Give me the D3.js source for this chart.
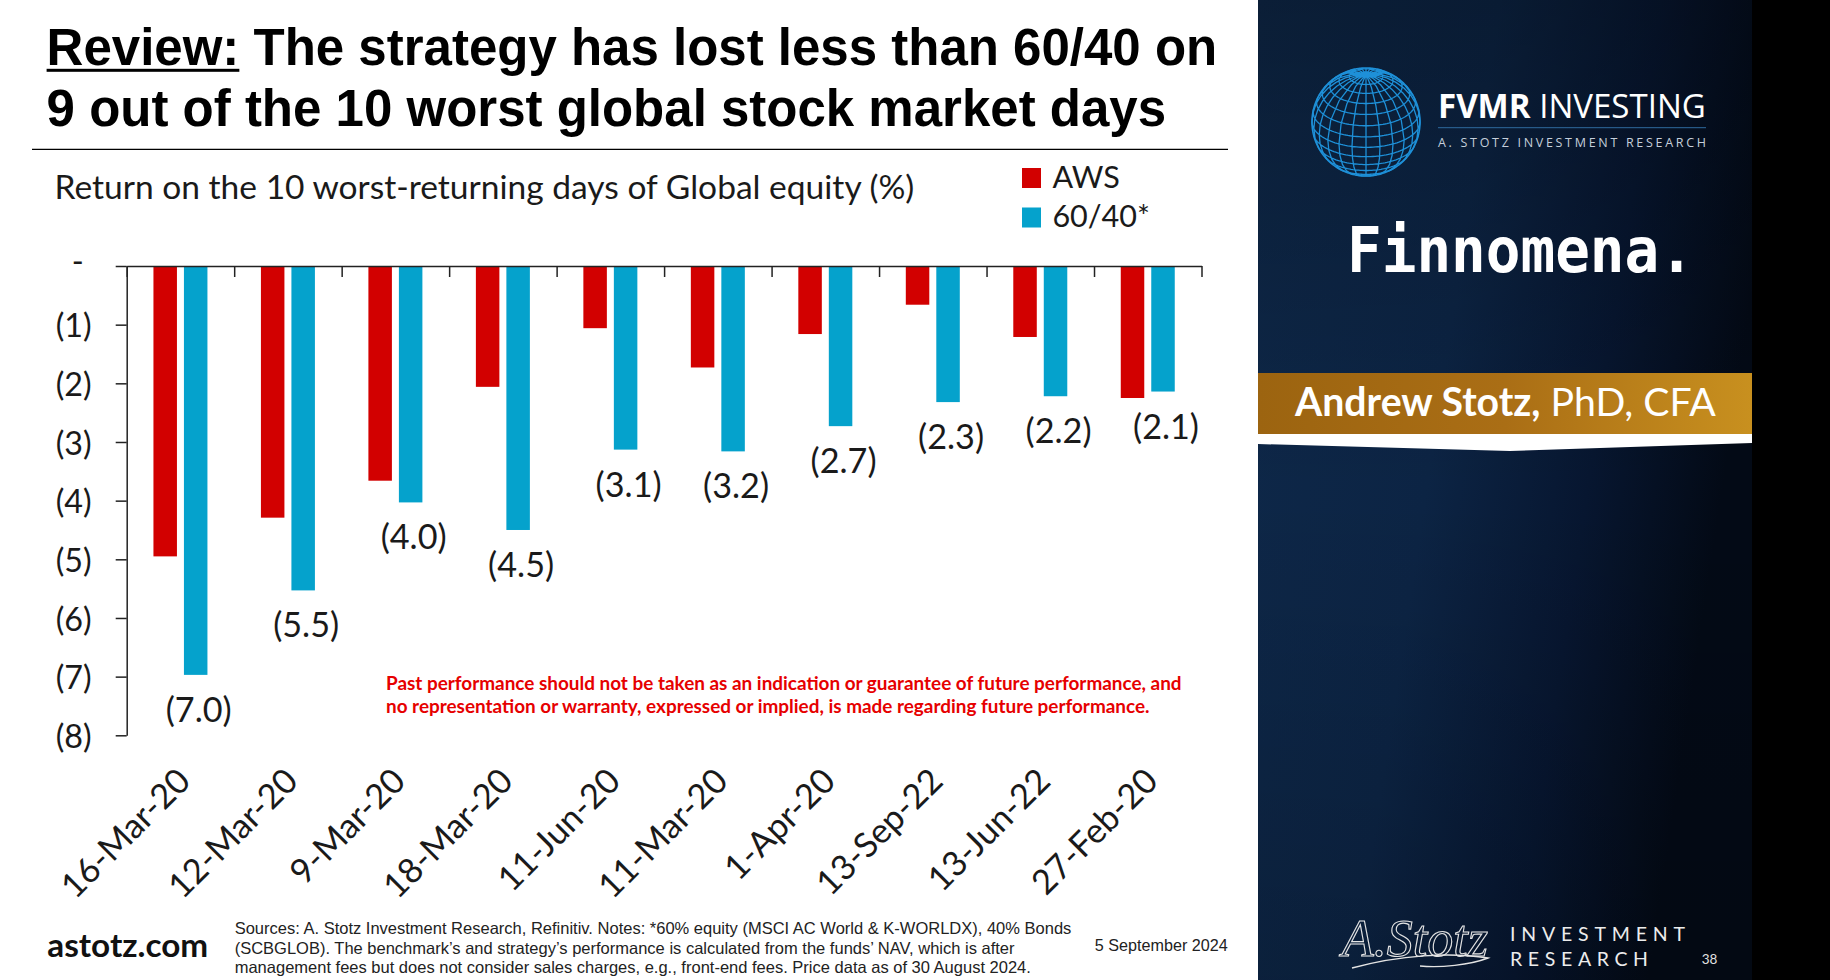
<!DOCTYPE html>
<html><head><meta charset="utf-8">
<script src="https://cdn.jsdelivr.net/npm/d3@7"></script>
<style>html,body{margin:0;padding:0;background:#fff;overflow:hidden}</style>
</head><body>
<svg id="c" width="1830" height="980"></svg>
<script>
// ---------------- data ----------------
const categories = ["16-Mar-20","12-Mar-20","9-Mar-20","18-Mar-20","11-Jun-20","11-Mar-20","1-Apr-20","13-Sep-22","13-Jun-22","27-Feb-20"];
const awsValues = [-4.95,-4.29,-3.66,-2.06,-1.06,-1.73,-1.16,-0.66,-1.21,-2.25];
const sixtyFortyValues = [-6.97,-5.53,-4.03,-4.50,-3.13,-3.16,-2.73,-2.32,-2.22,-2.14];
const seriesNames = ["AWS","60/40*"];
const seriesColors = ["#d20000","#05a2cc"];
const yTickValues = [0,-1,-2,-3,-4,-5,-6,-7,-8];
const titleLines = ["The strategy has lost less than 60/40 on","9 out of the 10 worst global stock market days"];
const subtitle = "Return on the 10 worst-returning days of Global equity (%)";
const disclaimer = ["Past performance should not be taken as an indication or guarantee of future performance, and",
  "no representation or warranty, expressed or implied, is made regarding future performance."];
const sources = ["Sources: A. Stotz Investment Research, Refinitiv. Notes: *60% equity (MSCI AC World & K-WORLDX), 40% Bonds",
  "(SCBGLOB). The benchmark\u2019s and strategy\u2019s performance is calculated from the funds\u2019 NAV, which is after",
  "management fees but does not consider sales charges, e.g., front-end fees. Price data as of 30 August 2024."];

const svg = d3.select("#c");
function fitW(sel, w){ const n=sel.node(); const fs=parseFloat(sel.attr("font-size")); const cw=n.getComputedTextLength(); sel.attr("font-size", fs*w/cw); return fs*w/cw; }
function measure(txt, family, weight, size){ const t=svg.append("text").attr("font-family",family).attr("font-weight",weight).attr("font-size",size).text(txt); const w=t.node().getComputedTextLength(); t.remove(); return w; }

// ---------------- backgrounds ----------------
svg.append("rect").attr("x",0).attr("y",0).attr("width",1830).attr("height",980).attr("fill","#fff");
const defs = svg.append("defs");
const pg = defs.append("linearGradient").attr("id","panel").attr("x1","0").attr("y1","0").attr("x2","1").attr("y2","0.3");
pg.append("stop").attr("offset","0").attr("stop-color","#0e2849");
pg.append("stop").attr("offset","0.45").attr("stop-color","#0c2444");
pg.append("stop").attr("offset","0.75").attr("stop-color","#071630");
pg.append("stop").attr("offset","1").attr("stop-color","#030a16");
svg.append("rect").attr("x",1258).attr("y",0).attr("width",494).attr("height",980).attr("fill","url(#panel)");
const vg = defs.append("linearGradient").attr("id","vshade").attr("x1","0").attr("y1","0").attr("x2","0").attr("y2","1");
vg.append("stop").attr("offset","0").attr("stop-color","#000").attr("stop-opacity",0.25);
vg.append("stop").attr("offset","0.5").attr("stop-color","#000").attr("stop-opacity",0);
vg.append("stop").attr("offset","1").attr("stop-color","#000").attr("stop-opacity",0.15);
svg.append("rect").attr("x",1258).attr("y",0).attr("width",494).attr("height",980).attr("fill","url(#vshade)");
svg.append("rect").attr("x",1752).attr("y",0).attr("width",78).attr("height",980).attr("fill","#000");

// ---------------- title ----------------
const title = svg.append("text").attr("x",46.6).attr("y",64.5).attr("font-family","Liberation Sans, Arial").attr("font-weight","bold").attr("font-size",50).attr("fill","#000");
title.append("tspan").text("Review:");
title.append("tspan").text(" " + titleLines[0]);
const tfs = fitW(title, 1171);
const revW = title.node().getSubStringLength(0,7);
svg.append("rect").attr("x",46.6).attr("y",68.8).attr("width",revW).attr("height",3).attr("fill","#000");
svg.append("text").attr("x",46.6).attr("y",125.5).attr("font-family","Liberation Sans, Arial").attr("font-weight","bold").attr("font-size",tfs).attr("fill","#000").text(titleLines[1]);
svg.append("line").attr("x1",32).attr("x2",1228).attr("y1",149.3).attr("y2",149.3).attr("stroke","#000").attr("stroke-width",1.3);

// subtitle
const st = svg.append("text").attr("x",54.5).attr("y",198.5).attr("font-family","Lato").attr("font-size",26).attr("fill","#1a1a1a").text(subtitle);
fitW(st, 860);

// ---------------- scales ----------------
const x0 = d3.scaleBand().domain(categories).range([126.7,1201.5]).paddingInner(0).paddingOuter(0);
const x1 = d3.scaleBand().domain(seriesNames).range([0,x0.bandwidth()]).paddingInner(0.2295).paddingOuter(0.877);
const y = d3.scaleLinear().domain([0,-8]).range([266,735.3]);

const chart = svg.append("g");
const rows = categories.map((c,i)=>({cat:c, vals:[awsValues[i], sixtyFortyValues[i]]}));

// bars
const groups = chart.selectAll("g.grp").data(rows).join("g").attr("class","grp").attr("transform",d=>`translate(${x0(d.cat)},0)`);
groups.selectAll("rect").data(d=>d.vals.map((v,j)=>({s:seriesNames[j], v, j}))).join("rect")
  .attr("x",d=>x1(d.s)).attr("width",x1.bandwidth())
  .attr("y",y(0)).attr("height",d=>y(d.v)-y(0)).attr("fill",d=>seriesColors[d.j]);

// data labels for 60/40
const lblSize = (function(){ const w=measure("(7.0)","Lato","normal",30); return 30*66/w; })();
groups.append("text").attr("font-family","Lato").attr("font-size",lblSize).attr("fill","#1a1a1a")
  .attr("text-anchor","middle")
  .attr("x",d=>x1(seriesNames[1])+x1.bandwidth()/2+3)
  .attr("y",d=>y(d.vals[1])+35).attr("dy","0.35em")
  .text(d=>"(" + d3.format(".1f")(-d.vals[1]) + ")");

// y axis
const yLblSize = (function(){ const w=measure("(1)","Lato","normal",30); return 30*36/w; })();
const yAxis = d3.axisLeft(y).tickValues(yTickValues).tickSize(11).tickSizeOuter(0).tickPadding(24)
  .tickFormat(d=> d===0 ? "-" : "(" + (-d) + ")");
const yg = svg.append("g").attr("transform","translate(126.7,0)").call(yAxis);
yg.select(".domain").attr("stroke","#222").attr("stroke-width",1.5);
yg.selectAll(".tick line").attr("stroke","#222").attr("stroke-width",1.5);
yg.selectAll(".tick text").attr("font-family","Lato").attr("font-size",yLblSize).attr("fill","#1a1a1a").attr("dy","0.38em");
yg.selectAll(".tick text").filter(d=>d===0).attr("dx",-8).attr("dy","0.2em");

// x axis (top line with boundary ticks)
const xb = d3.scaleLinear().domain([0,categories.length]).range(x0.range());
const xAxis = d3.axisBottom(xb).tickValues(d3.range(0,categories.length+1)).tickSize(11).tickSizeOuter(0).tickFormat("");
const xg = svg.append("g").attr("transform",`translate(0,${y(0)})`).call(xAxis);
xg.select(".domain").attr("stroke","#222").attr("stroke-width",1.5);
xg.selectAll(".tick line").attr("stroke","#222").attr("stroke-width",1.5);

// category labels
const catSize = (function(){ const w=measure(categories[0],"Lato","normal",30); return 30*166/w; })();
svg.append("g").selectAll("text").data(categories).join("text")
  .attr("font-family","Lato").attr("font-size",catSize).attr("fill","#1a1a1a").attr("text-anchor","end")
  .attr("transform",d=>`translate(${x0(d)+x0.bandwidth()/2+12},783) rotate(-45)`)
  .text(d=>d);

// legend
const leg = svg.append("g");
seriesNames.forEach((s,i)=>{
  leg.append("rect").attr("x",1022).attr("y",168+i*39.5).attr("width",19).attr("height",20).attr("fill",seriesColors[i]);
});
const legSize = (function(){ const w=measure(seriesNames[0],"Lato","normal",30); return 30*67.4/w; })();
seriesNames.forEach((s,i)=>{
  leg.append("text").attr("x",1052.4).attr("y",187.7+i*39).attr("font-family","Lato").attr("font-size",legSize).attr("fill","#1a1a1a").text(s);
});

// disclaimer
const d1 = svg.append("text").attr("x",386).attr("y",690).attr("font-family","Lato").attr("font-weight","bold").attr("font-size",17).attr("fill","#e60000").text(disclaimer[0]);
const dfs = fitW(d1, 796);
svg.append("text").attr("x",386).attr("y",712.7).attr("font-family","Lato").attr("font-weight","bold").attr("font-size",dfs).attr("fill","#e60000").text(disclaimer[1]);

// footer
const ast = svg.append("text").attr("x",47.3).attr("y",956.7).attr("font-family","Lato").attr("font-weight","bold").attr("font-size",30).attr("fill","#111").text("astotz.com");
fitW(ast, 161);
const s1 = svg.append("text").attr("x",234.7).attr("y",934).attr("font-family","Liberation Sans, Arial").attr("font-size",15).attr("fill","#222").text(sources[0]);
const sfs = fitW(s1, 837);
sources.slice(1).forEach((s,i)=>{
  svg.append("text").attr("x",234.7).attr("y",954+i*19).attr("font-family","Liberation Sans, Arial").attr("font-size",sfs).attr("fill","#222").text(s);
});
const dt = svg.append("text").attr("x",1094.8).attr("y",951).attr("font-family","Liberation Sans, Arial").attr("font-size",15).attr("fill","#222").text("5 September 2024");
fitW(dt, 133);

// ---------------- right panel ----------------
// globe
const proj = d3.geoOrthographic().rotate([0,-28,0]).scale(54).translate([1366,122]).clipAngle(90);
const gpath = d3.geoPath(proj);
svg.append("path").datum(d3.geoGraticule().step([15,12]).extentMinor([[-180,-84],[180,84.01]])()).attr("d",gpath)
  .attr("fill","none").attr("stroke","#1e90d8").attr("stroke-width",1.3);
svg.append("path").datum({type:"Sphere"}).attr("d",gpath).attr("fill","none").attr("stroke","#1e90d8").attr("stroke-width",1.6);

const fv = svg.append("text").attr("x",1438).attr("y",118.3).attr("font-family","Open Sans").attr("font-size",27).attr("fill","#fff");
fv.append("tspan").attr("font-weight","bold").text("FVMR");
fv.append("tspan").attr("font-weight","normal").text(" INVESTING");
fitW(fv, 268);
svg.append("line").attr("x1",1438).attr("x2",1706).attr("y1",127.7).attr("y2",127.7).attr("stroke","#2f6b9e").attr("stroke-width",1);
const asr = svg.append("text").attr("x",1438).attr("y",146.7).attr("font-family","Open Sans").attr("font-size",12.5).attr("fill","#c5cfdb").text("A. STOTZ INVESTMENT RESEARCH");
(function(){ const w=asr.node().getComputedTextLength(); const n="A. STOTZ INVESTMENT RESEARCH".length; asr.attr("letter-spacing",(268-w)/(n-1)); })();

const fin = svg.append("text").attr("font-family","DejaVu Sans Mono").attr("font-weight","bold").attr("font-size",58).attr("fill","#fff")
  .attr("transform","translate(1347,271.7) scale(1,1.08)").text("Finnomena.");
fitW(fin, 347);

// gold banner
const gg = defs.append("linearGradient").attr("id","gold").attr("x1","0").attr("y1","0").attr("x2","1").attr("y2","0");
gg.append("stop").attr("offset","0").attr("stop-color","#9c6410");
gg.append("stop").attr("offset","0.5").attr("stop-color","#aa6e15");
gg.append("stop").attr("offset","1").attr("stop-color","#c8901f");
svg.append("rect").attr("x",1258).attr("y",373).attr("width",494).attr("height",61).attr("fill","url(#gold)");
svg.append("path").attr("d","M1258,434 L1752,434 L1752,443 L1510,451 L1258,444 Z").attr("fill","#fff");
const an = svg.append("text").attr("x",1295).attr("y",415.5).attr("font-family","Lato").attr("font-size",36).attr("fill","#fff");
an.append("tspan").attr("font-weight","bold").text("Andrew Stotz,");
an.append("tspan").attr("font-weight","normal").text(" PhD, CFA");
fitW(an, 421);

// bottom logo
svg.append("text").attr("x",1342).attr("y",956).attr("font-family","Liberation Serif").attr("font-style","italic").attr("font-size",52)
  .attr("fill","none").attr("stroke","#e4e4e4").attr("stroke-width",1.1).text("A.Stotz");
svg.append("path").attr("d","M1352,968 C1400,955 1450,952 1488,958 C1470,965 1440,968 1420,966")
  .attr("fill","none").attr("stroke","#e4e4e4").attr("stroke-width",1.4);
const inv = svg.append("text").attr("x",1510).attr("y",940.5).attr("font-family","Lato").attr("font-weight",400).attr("font-size",19.5).attr("fill","#ececec").text("INVESTMENT");
(function(){ const w=inv.node().getComputedTextLength(); inv.attr("letter-spacing",(175-w)/9); })();
const res = svg.append("text").attr("x",1510).attr("y",966).attr("font-family","Lato").attr("font-weight",400).attr("font-size",19.5).attr("fill","#ececec").text("RESEARCH");
(function(){ const w=res.node().getComputedTextLength(); res.attr("letter-spacing",(138-w)/7); })();
svg.append("text").attr("x",1701.7).attr("y",964).attr("font-family","Lato").attr("font-size",13.5).attr("fill","#e0e0e0").text("38");
</script>
</body></html>
